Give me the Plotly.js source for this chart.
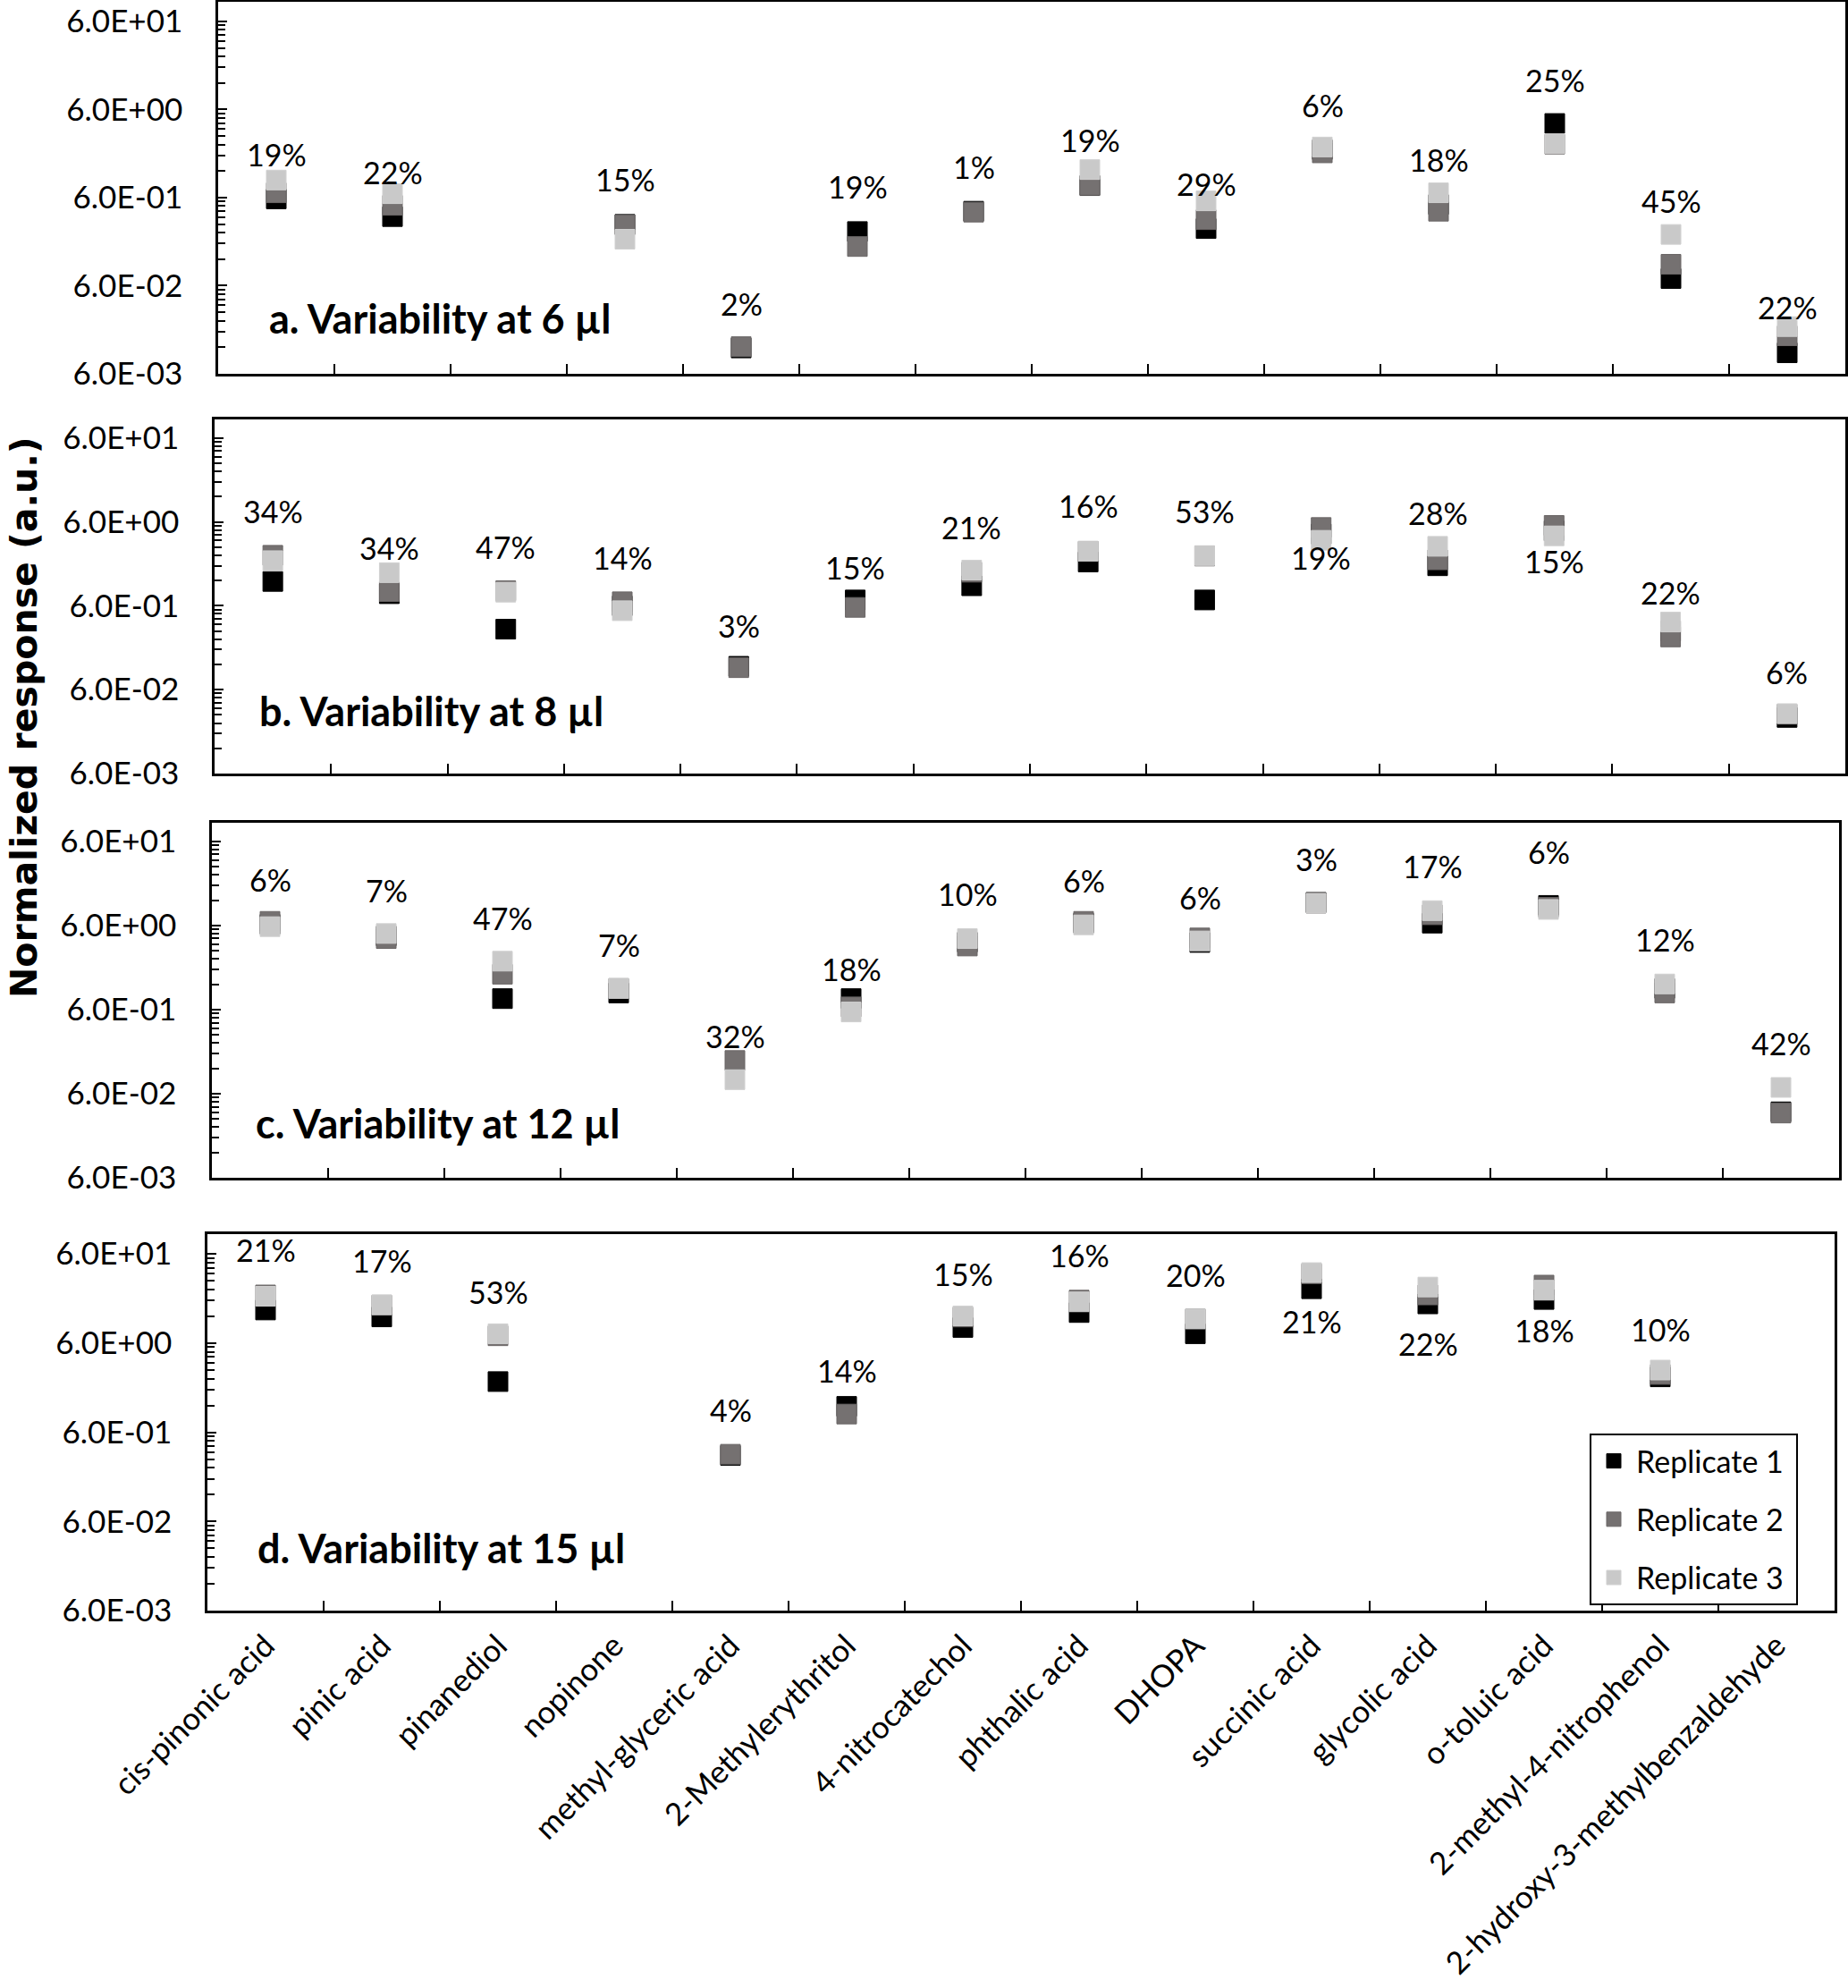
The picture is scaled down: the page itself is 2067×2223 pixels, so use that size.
<!DOCTYPE html>
<html>
<head>
<meta charset="utf-8">
<script src="https://cdn.plot.ly/plotly-3.0.1.min.js"></script>
<style>html,body{margin:0;padding:0;background:#fff;}#chart{width:2067px;height:2223px;}</style>
</head>
<body>
<div id="chart"></div>
<script>
// ---------------- DATA ----------------
const categories = ['cis-pinonic acid','pinic acid','pinanediol','nopinone','methyl-glyceric acid','2-Methylerythritol','4-nitrocatechol','phthalic acid','DHOPA','succinic acid','glycolic acid','o-toluic acid','2-methyl-4-nitrophenol','2-hydroxy-3-methylbenzaldehyde'];
const seriesNames = ['Replicate 1','Replicate 2','Replicate 3'];

// 6 µl
const rep1_6ul = [0.58, 0.365, null, 0.298, 0.0118, 0.247, 0.42, 0.82, 0.267, 2.1, 0.5, 4.16, 0.0723, 0.0104];
const rep2_6ul = [0.68, 0.49, null, 0.293, 0.0122, 0.167, 0.41, 0.826, 0.337, 1.93, 0.42, 2.42, 0.105, 0.0162];
const rep3_6ul = [0.949, 0.664, null, 0.202, null, null, null, 1.247, 0.551, 2.25, 0.68, 2.45, 0.229, 0.0206];
const cv_6ul = ['19%','22%',null,'15%','2%','19%','1%','19%','29%','6%','18%','25%','45%','22%'];
const cvAt_6ul = [1.87, 1.17, null, 0.964, 0.0373, 0.794, 1.35, 2.69, 0.851, 6.69, 1.6, 13.06, 0.551, 0.034];

// 8 µl
const rep1_8ul = [1.17, 0.836, 0.316, 0.6, 0.114, 0.704, 1.04, 2.0, 0.704, 4.3, 1.80, 4.7, 0.3, 0.028];
const rep2_8ul = [2.40, 0.885, 0.908, 0.67, 0.1097, 0.574, 1.51, 2.68, 2.35, 5.15, 2.12, 5.45, 0.255, 0.0306];
const rep3_8ul = [2.07, 1.49, 0.871, 0.524, null, null, 1.6, 2.69, 2.38, 3.62, 3.07, 4.09, 0.384, 0.0311];
const cv_8ul = ['34%','34%','47%','14%','3%','15%','21%','16%','53%','19%','28%','15%','22%','6%'];
const cvAt_8ul = [8.07, 2.93, 3.02, 2.27, 0.345, 1.70, 5.15, 9.28, 8.0, 2.27, 7.63, 2.06, 0.871, 0.0971];

// 12 µl
const rep1_12ul = [6.2, 4.5, 0.81, 0.946, null, 0.81, 3.8, 6.4, 3.77, 11.3, 6.4, 10.4, 1.07, 0.0365];
const rep2_12ul = [6.72, 4.19, 1.58, 1.07, 0.149, 0.646, 3.42, 6.72, 4.27, 11.05, 8.05, 9.86, 0.946, 0.0353];
const rep3_12ul = [5.81, 4.82, 2.26, 1.07, 0.088, 0.562, 4.19, 6.1, 3.93, 11.05, 9.01, 9.31, 1.21, 0.0712];
const cv_12ul = ['6%','7%','47%','7%','32%','18%','10%','6%','6%','3%','17%','6%','12%','42%'];
const cvAt_12ul = [21.0, 15.8, 7.3, 3.57, 0.293, 1.83, 14.2, 20.5, 13.1, 37.2, 30.3, 44.8, 4.09, 0.239];

// 15 µl
const rep1_15ul = [14.1, 11.8, 2.22, null, 0.33, 1.17, 8.98, 13.2, 7.64, 24.4, 16.5, 18.5, 2.51, null];
const rep2_15ul = [20.8, 16.0, 7.25, null, 0.34, 0.96, 11.76, 18.2, 11.2, 36, 20.8, 26.8, 2.67, null];
const rep3_15ul = [20.1, 16.1, 7.64, null, null, null, 12.1, 17.4, 11.2, 37, 25.5, 23.5, 2.99, null];
const cv_15ul = ['21%','17%','53%',null,'4%','14%','15%','16%','20%','21%','22%','18%','10%',null];
const cvAt_15ul = [66.3, 50.7, 22.6, null, 1.08, 2.99, 35.8, 58.2, 35.3, 10.6, 5.97, 8.45, 8.51, null];

const panelTitles = ['a. Variability at 6 µl','b. Variability at 8 µl','c. Variability at 12 µl','d. Variability at 15 µl'];
const yTickVals = [0.006, 0.06, 0.6, 6, 60];
const yTickText = ['6.0E-03','6.0E-02','6.0E-01','6.0E+00','6.0E+01'];
const yAxisTitle = 'Normalized response (a.u.)';

// ---------------- LAYOUT / STYLE ----------------
const W = 2067, H = 2223;
const colors = ['#000000', '#757171', '#c9c9c9'];
const lineColors = ['#000000', '#6a6666', '#d0d0d0'];
const FONT = 'Lato, "Open Sans", sans-serif';

const panelData = [
  {reps:[rep1_6ul, rep2_6ul, rep3_6ul], cv:cv_6ul, cvAt:cvAt_6ul},
  {reps:[rep1_8ul, rep2_8ul, rep3_8ul], cv:cv_8ul, cvAt:cvAt_8ul},
  {reps:[rep1_12ul, rep2_12ul, rep3_12ul], cv:cv_12ul, cvAt:cvAt_12ul},
  {reps:[rep1_15ul, rep2_15ul, rep3_15ul], cv:cv_15ul, cvAt:cvAt_15ul}
];
// pixel boxes [left, right, top, bottom] of each plot frame
const boxes = [[244, 2064, 2, 418], [240, 2064, 469, 865], [237, 2057, 920, 1317], [232, 2052, 1380, 1801]];
const titlePos = [[299, 356], [288, 795], [284, 1256], [286, 1731]];

// minor ticks at 6*k*10^n
const minorVals = [];
[-3,-2,-1,0].forEach(n => { for (let k = 2; k <= 9; k++) minorVals.push(6 * k * Math.pow(10, n)); });

const data = [];
const annotations = [];
const layout = {
  width: W, height: H,
  margin: {l:0, r:0, t:0, b:0},
  paper_bgcolor: '#fff', plot_bgcolor: '#fff',
  showlegend: true,
  legend: {
    x: 1778 / W, y: 1 - 1603 / H, xanchor: 'left', yanchor: 'top',
    bordercolor: '#000', borderwidth: 2, bgcolor: '#fff',
    font: {family: FONT, size: 34, color: '#000'},
    traceorder: 'grouped', tracegroupgap: 18, itemwidth: 40
  },
  annotations: annotations
};

panelData.forEach((p, i) => {
  const s = i === 0 ? '' : String(i + 1);
  const b = boxes[i];
  p.reps.forEach((vals, r) => {
    data.push({
      type: 'scatter', mode: 'markers',
      x: categories, y: vals,
      xaxis: 'x' + s, yaxis: 'y' + s,
      name: seriesNames[r] + '\u00a0', legendgroup: 'g' + r,
      showlegend: i === 3,
      marker: {symbol: 'square', size: 22, color: colors[r], line: {width: 1, color: lineColors[r]}},
      hoverinfo: 'x+y+name'
    });
  });
  layout['xaxis' + s] = {
    type: 'category', categoryorder: 'array', categoryarray: categories,
    range: [-0.5, categories.length - 0.5],
    domain: [b[0] / W, b[1] / W], anchor: 'y' + s,
    tickson: 'boundaries', ticks: 'inside', ticklen: 11, tickwidth: 2, tickcolor: '#000',
    showline: true, mirror: true, linecolor: '#000', linewidth: 2.5,
    showgrid: false, zeroline: false,
    showticklabels: i === 3, tickangle: -45,
    tickfont: {family: FONT, size: 35, color: '#000'},
    ticklabelstandoff: 2
  };
  layout['yaxis' + s] = {
    type: 'log', range: [Math.log10(0.006), 2],
    domain: [1 - b[3] / H, 1 - b[2] / H], anchor: 'x' + s,
    tickmode: 'array', tickvals: yTickVals, ticktext: yTickText,
    ticks: 'inside', ticklen: 10, tickwidth: 2, tickcolor: '#000',
    minor: {tickmode: 'array', tickvals: minorVals, ticks: 'inside', ticklen: 8, tickwidth: 1.5, tickcolor: '#000', showgrid: false},
    showline: true, mirror: true, linecolor: '#000', linewidth: 2.5,
    showgrid: false, zeroline: false,
    tickfont: {family: FONT, size: 35, color: '#000'},
    ticklabelstandoff: 30
  };
  p.cv.forEach((t, j) => {
    if (t === null) return;
    annotations.push({
      xref: 'x' + s, yref: 'y' + s, x: categories[j], y: Math.log10(p.cvAt[j]),
      text: t, showarrow: false, xanchor: 'center', yanchor: 'middle',
      font: {family: FONT, size: 34, color: '#000'}
    });
  });
  annotations.push({
    xref: 'paper', yref: 'paper', x: titlePos[i][0] / W, y: 1 - titlePos[i][1] / H,
    xanchor: 'left', yanchor: 'middle', showarrow: false,
    text: panelTitles[i],
    font: {family: FONT, size: 45, color: '#000', weight: 700}
  });
});

annotations.push({
  xref: 'paper', yref: 'paper', x: 27 / W, y: 1 - 802 / H,
  xanchor: 'center', yanchor: 'middle', showarrow: false, textangle: -90,
  text: yAxisTitle,
  font: {family: '"DejaVu Sans", sans-serif', size: 41, color: '#000', weight: 700}
});

Plotly.newPlot('chart', data, layout, {displayModeBar: false, responsive: false});
</script>
</body>
</html>
